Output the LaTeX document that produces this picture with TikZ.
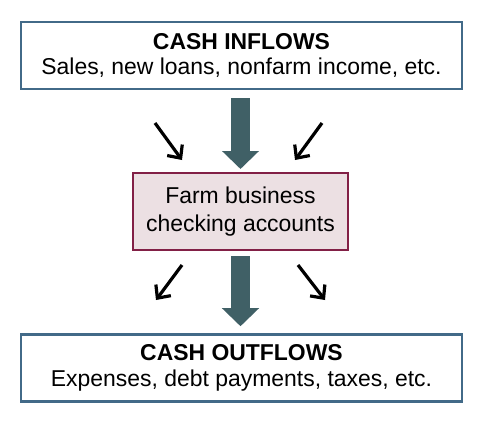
\documentclass[tikz,border=0pt]{standalone}
\usepackage{fontspec}
\setmainfont{Liberation Sans}
\usetikzlibrary{arrows.meta,positioning}
\definecolor{cashBlue}{RGB}{66,106,136}
\definecolor{farmRed}{RGB}{130,32,70}
\definecolor{farmPink}{RGB}{236,224,227}
\definecolor{flowTeal}{RGB}{64,96,102}

\begin{document}
\begin{tikzpicture}[x=0.75pt,y=-0.75pt,
    cashbox/.style={draw=cashBlue, line width=1.9pt, minimum width=330.75pt, minimum height=50.25pt,
        align=center, inner sep=0pt, font=\fontsize{17.2}{19}\selectfont},
    farmbox/.style={draw=farmRed, fill=farmPink, line width=1.5pt, minimum width=161.25pt, minimum height=57.75pt,
        align=center, inner sep=0pt, font=\fontsize{17.2}{20.5}\selectfont},
    bigflow/.style={draw=flowTeal, line width=14.25pt, -{Triangle[length=13.5pt,width=27pt]}},
    smallflow/.style={black, line width=2.4pt, -{Straight Barb[length=7.5pt,width=14pt]}}]
    \useasboundingbox (0,0) rectangle (486,426);

    % boxes
    \node[cashbox] (inflow) at (241.5,55.5) {\textbf{CASH INFLOWS}\\Sales, new loans, nonfarm income, etc.};
    \node[farmbox] (farm) at (240.5,211.5) {Farm business\\checking accounts};
    \node[cashbox] (outflow) at (241.5,368) {\textbf{CASH OUTFLOWS}\\Expenses, debt payments, taxes, etc.};

    % main flow
    \draw[bigflow, shorten <=6pt, shorten >=2.25pt] (inflow.south -| farm.north) -- (farm.north);
    \draw[bigflow, shorten <=3.75pt, shorten >=5.25pt] (farm.south) -- (outflow.north -| farm.south);

    % side flows
    \coordinate (inLa) at (155,123);
    \coordinate (inLb) at (182,160);
    \coordinate (inRa) at (322,123);
    \coordinate (inRb) at (295,160);
    \coordinate (outLa) at (182,265);
    \coordinate (outLb) at (156,300);
    \coordinate (outRa) at (298,265);
    \coordinate (outRb) at (325,300);
    \draw[smallflow] (inLa) -- (inLb);
    \draw[smallflow] (inRa) -- (inRb);
    \draw[smallflow] (outLa) -- (outLb);
    \draw[smallflow] (outRa) -- (outRb);
\end{tikzpicture}
\end{document}
